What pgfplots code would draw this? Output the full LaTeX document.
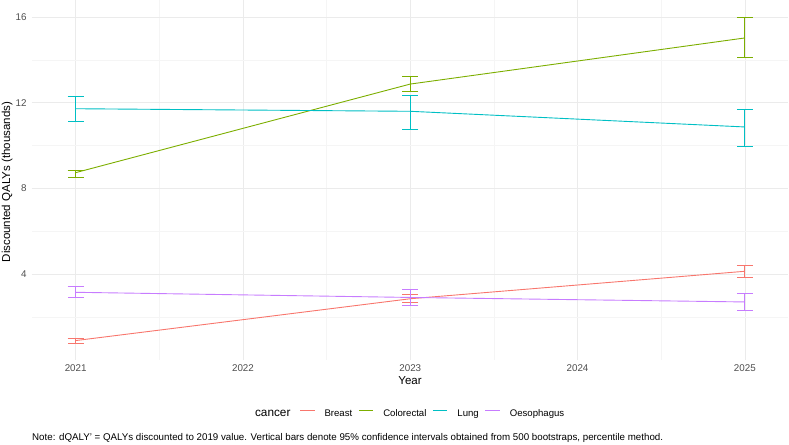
\documentclass[border=0pt]{standalone}
\usepackage{pgfplots}
\pgfplotsset{compat=1.18}
\usepackage{pgfplotstable}
\usepackage{fontspec}
\setmainfont{Liberation Sans}
\definecolor{cBreast}{HTML}{F8766D}
\definecolor{cColo}{HTML}{7CAE00}
\definecolor{cLung}{HTML}{00BFC4}
\definecolor{cOeso}{HTML}{C77CFF}
\definecolor{tickgrey}{HTML}{4D4D4D}
\pgfplotstableread{
x y ep em
2021 0.91 0.09 0.14
2023 2.86 0.21 0.18
2025 4.14 0.27 0.27
}\breast
\pgfplotstableread{
x y ep em
2021 8.74 0.11 0.22
2023 12.87 0.35 0.35
2025 15.02 0.95 0.89
}\colorectal
\pgfplotstableread{
x y ep em
2021 11.72 0.58 0.60
2023 11.60 0.76 0.84
2025 10.87 0.81 0.90
}\lung
\pgfplotstableread{
x y ep em
2021 3.16 0.27 0.22
2023 2.92 0.37 0.38
2025 2.71 0.39 0.40
}\oeso
\pgfplotsset{
  ser/.style={forget plot, color=#1, draw=#1, mark=none, line width=0.9pt,
    error bars/.cd, y dir=both, y explicit, error mark=|,
    error bar style={color=#1, line width=0.9pt},
    error mark options={color=#1, mark size=8pt, line width=0.9pt},
    /pgfplots/.cd},
}
\begin{document}
\begin{tikzpicture}
\useasboundingbox (0,0) rectangle (789pt,444pt);
\begin{axis}[
  at={(31.7pt,83.5pt)}, anchor=south west,
  scale only axis, width=756.6pt, height=360.5pt,
  xmin=2020.737, xmax=2025.26, ymin=-0.02, ymax=16.79,
  axis line style={draw=none},
  major tick length=0pt, minor tick length=0pt,
  xtick={2021,2022,2023,2024,2025},
  xticklabels={2021,2022,2023,2024,2025},
  minor xtick={2021.5,2022.5,2023.5,2024.5},
  ytick={4,8,12,16},
  minor ytick={2,6,10,14},
  grid=both,
  major grid style={color=black!8, line width=0.6pt},
  minor grid style={color=black!4, line width=0.35pt},
  /pgf/number format/assume math mode=true,
  tick label style={font=\fontsize{9.8}{11}\selectfont, text=tickgrey, inner sep=0pt},
  xticklabel style={anchor=center, yshift=-7.5pt},
  yticklabel style={anchor=east, xshift=-5pt},
  xlabel={Year}, ylabel={Discounted QALYs (thousands)},
  label style={font=\fontsize{11.5}{13}\selectfont, inner sep=0pt},
  xlabel style={at={(axis description cs:0.5,-0.056)}, anchor=center},
  ylabel style={at={(axis description cs:-0.0323,0.495)}, anchor=center},
  clip=false,
  legend columns=-1,
  legend image code/.code={\draw[#1] (0pt,0.32em) -- (14.5pt,0.32em);},
  legend style={draw=none, fill=none, at={(axis description cs:0.3537,-0.148)}, anchor=west,
    font=\fontsize{9.6}{11}\selectfont, inner sep=0pt,
    nodes={inner sep=0pt},
    /tikz/every even column/.append style={column sep=6pt},
    /tikz/every odd column/.append style={column sep=9.5pt}},
]
\addplot[ser=cBreast] table[x=x, y=y, y error plus=ep, y error minus=em]{\breast};
\addplot[ser=cColo] table[x=x, y=y, y error plus=ep, y error minus=em]{\colorectal};
\addplot[ser=cLung] table[x=x, y=y, y error plus=ep, y error minus=em]{\lung};
\addplot[ser=cOeso] table[x=x, y=y, y error plus=ep, y error minus=em]{\oeso};
\addlegendimage{color=cBreast, line width=1pt}
\addlegendentry{Breast}
\addlegendimage{color=cColo, line width=1pt}
\addlegendentry{Colorectal}
\addlegendimage{color=cLung, line width=1pt}
\addlegendentry{Lung}
\addlegendimage{color=cOeso, line width=1pt}
\addlegendentry{Oesophagus}
\node[anchor=east, inner sep=0pt, font=\fontsize{11.8}{13}\selectfont] at (axis description cs:0.3423,-0.148) {cancer};
\end{axis}
\node[anchor=west, inner sep=0pt, font=\fontsize{9.75}{11}\selectfont] at (32pt,6.3pt) {Note: dQALY' = QALYs discounted to 2019 value. Vertical bars denote 95\% confidence intervals obtained from 500 bootstraps, percentile method.};
\end{tikzpicture}
\end{document}
